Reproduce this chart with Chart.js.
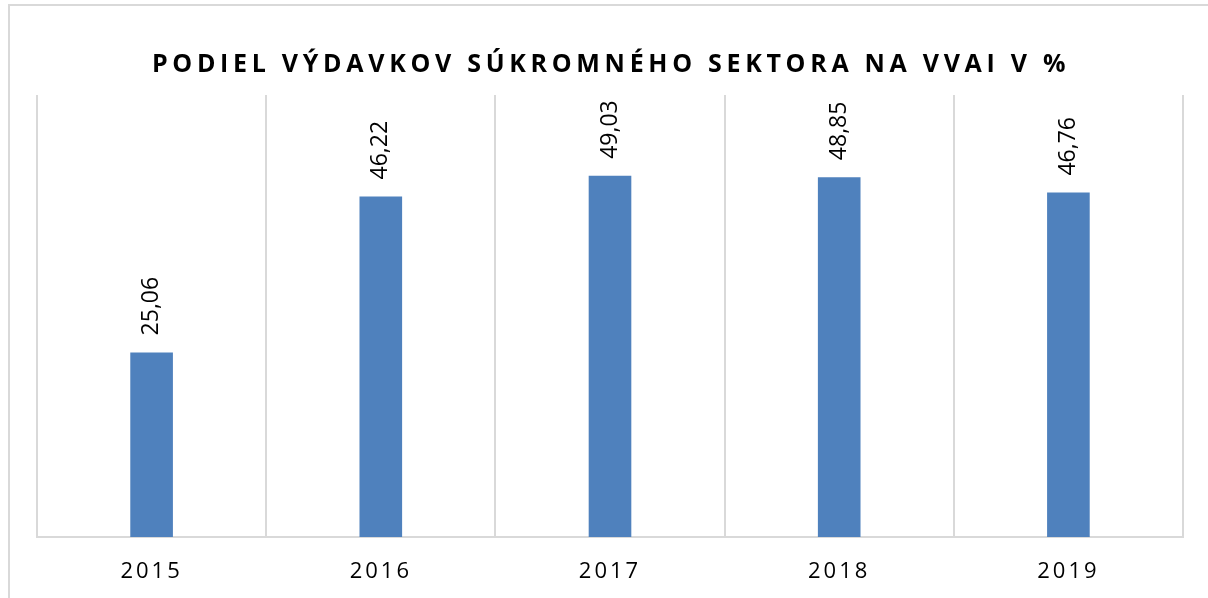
<!DOCTYPE html>
<html>
<head>
<meta charset="utf-8">
<script src="https://cdn.jsdelivr.net/npm/chart.js@4/dist/chart.umd.min.js"></script>
<style>
    html, body { margin: 0; padding: 0; background: #fff; }
    #wrap { position: relative; width: 1208px; height: 598px; overflow: hidden; }
    #frame { position: absolute; left: 8px; top: 4px; width: 1400px; height: 800px; border: 2px solid #d9d9d9; box-sizing: border-box; }
    #chart { position: absolute; left: 0; top: 0; }
</style>
</head>
<body>
<div id="wrap">
    <div id="frame"></div>
    <canvas id="chart" width="1208" height="598"></canvas>
</div>
<script>
const titleText = 'PODIEL VÝDAVKOV SÚKROMNÉHO SEKTORA NA VVAI V %';
const years = ['2015', '2016', '2017', '2018', '2019'];
const shares = [25.06, 46.22, 49.03, 48.85, 46.76];

const fontName = '"Open Sans", "DejaVu Sans", sans-serif';

// title drawn by hand so it can be letter-spaced like the original
const titlePlugin = {
    id: 'spacedTitle',
    beforeDraw: function(chart) {
        chart.ctx.letterSpacing = '3px';
    },
    afterDraw: function(chart) {
        var ctx = chart.ctx;
        ctx.save();
        ctx.letterSpacing = '4.7px';
        ctx.font = 'bold 25px ' + fontName;
        ctx.fillStyle = '#000';
        ctx.textAlign = 'center';
        ctx.textBaseline = 'alphabetic';
        ctx.fillText(titleText, 611, 71.5);
        ctx.restore();
    }
};

const valueLabels = {
    id: 'valueLabels',
    afterDatasetsDraw: function(chart) {
        var ctx = chart.ctx;
        var meta = chart.getDatasetMeta(0);
        ctx.save();
        ctx.letterSpacing = '0px';
        ctx.font = '23px ' + fontName;
        ctx.fillStyle = '#000';
        ctx.textAlign = 'left';
        ctx.textBaseline = 'middle';
        meta.data.forEach(function(bar, i) {
            ctx.save();
            ctx.translate(bar.x, bar.y - 17);
            ctx.rotate(-Math.PI / 2);
            ctx.fillText(shares[i].toFixed(2).replace('.', ','), 0, 0);
            ctx.restore();
        });
        ctx.restore();
    }
};

var ctx = document.getElementById('chart').getContext('2d');
var shareChart = new Chart(ctx, {
    type: 'bar',
    data: {
        labels: years,
        datasets: [{
            data: shares,
            backgroundColor: '#4F81BD',
            borderWidth: 0,
            categoryPercentage: 1,
            barPercentage: 0.186
        }]
    },
    options: {
        responsive: false,
        animation: false,
        layout: { padding: { top: 95, left: 37, right: 25, bottom: 0 } },
        plugins: {
            legend: { display: false },
            title: { display: false },
            tooltip: { enabled: false }
        },
        scales: {
            x: {
                afterFit: function(scale) { scale.height = 61; },
                grid: { offset: true, color: '#d9d9d9', lineWidth: 2, drawTicks: false },
                border: { color: '#d9d9d9', width: 2 },
                ticks: { color: '#000', padding: 22, font: { family: fontName, size: 22 } }
            },
            y: {
                display: false,
                min: 0,
                max: 60
            }
        }
    },
    plugins: [titlePlugin, valueLabels]
});
</script>
</body>
</html>
